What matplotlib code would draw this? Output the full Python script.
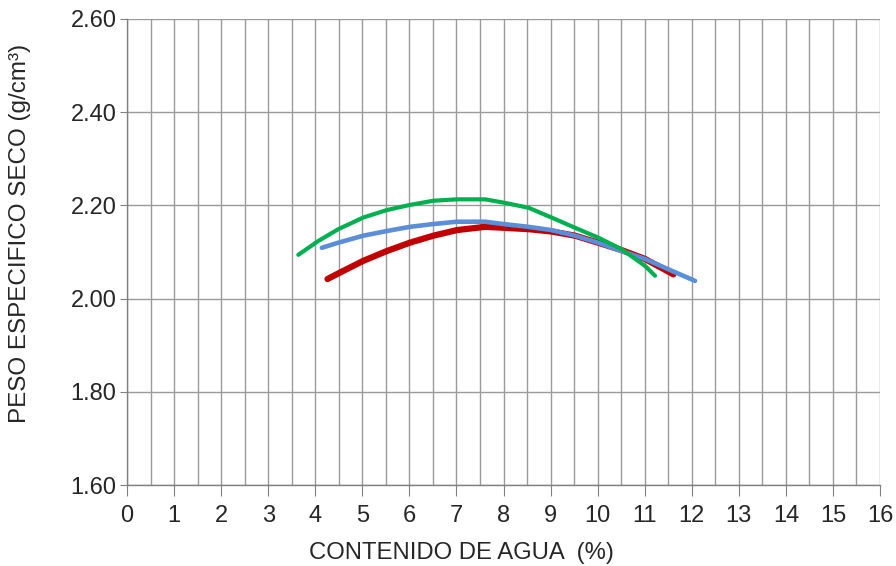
import matplotlib
matplotlib.use("Agg")
import matplotlib.pyplot as plt
from matplotlib.ticker import MultipleLocator, FormatStrFormatter

plt.rcParams['font.family'] = ['Liberation Sans', 'DejaVu Sans']

# Data
green_x = [3.64, 4.07, 4.49, 5.02, 5.52, 6.01, 6.51, 7.01, 7.61, 8.00, 8.53, 9.02, 9.52, 10.01, 10.51, 11.01, 11.22]
green_y = [2.094, 2.124, 2.149, 2.174, 2.190, 2.201, 2.210, 2.213, 2.213, 2.206, 2.195, 2.174, 2.152, 2.131, 2.106, 2.070, 2.049]

blue_x = [4.14, 4.49, 5.02, 5.52, 6.01, 6.51, 7.01, 7.61, 8.00, 8.53, 9.02, 9.52, 10.01, 10.51, 11.01, 11.50, 12.07]
blue_y = [2.109, 2.120, 2.135, 2.145, 2.154, 2.160, 2.165, 2.165, 2.160, 2.154, 2.147, 2.135, 2.120, 2.102, 2.085, 2.063, 2.038]

red_x = [4.26, 4.49, 5.02, 5.52, 6.01, 6.51, 7.01, 7.61, 8.00, 8.53, 9.02, 9.52, 10.01, 10.51, 11.01, 11.61]
red_y = [2.042, 2.054, 2.081, 2.102, 2.120, 2.135, 2.147, 2.154, 2.152, 2.149, 2.144, 2.135, 2.120, 2.104, 2.085, 2.052]

x_label = "CONTENIDO DE AGUA  (%)"
y_label = "PESO ESPECIFICO SECO (g/cm³)"

W, H = 896, 566
L, R, T, B = 127, 880, 19, 485

fig = plt.figure(figsize=(W / 100, H / 100), dpi=100)
ax = fig.add_axes([L / W, 1 - B / H, (R - L) / W, (B - T) / H])

ax.plot(red_x, red_y, color='#C00000', lw=4.5, solid_capstyle='round', solid_joinstyle='round', zorder=3)
ax.plot(blue_x, blue_y, color='#5B8ED8', lw=3.3, solid_capstyle='round', solid_joinstyle='round', zorder=4)
ax.plot(green_x, green_y, color='#00B050', lw=3.0, solid_capstyle='round', solid_joinstyle='round', zorder=5)

ax.set_xlim(0, 16)
ax.set_ylim(1.6, 2.6)
ax.xaxis.set_major_locator(MultipleLocator(1))
ax.xaxis.set_minor_locator(MultipleLocator(0.5))
ax.yaxis.set_major_locator(MultipleLocator(0.2))
ax.yaxis.set_major_formatter(FormatStrFormatter('%.2f'))

gcol = '#9A9A9A'
ax.grid(True, which='major', axis='both', color=gcol, lw=1.0)
ax.grid(True, which='minor', axis='x', color=gcol, lw=1.0)
ax.set_axisbelow(True)

for s in ['top', 'right']:
    ax.spines[s].set_visible(False)
for s in ['left', 'bottom']:
    ax.spines[s].set_color('#808080')
    ax.spines[s].set_linewidth(1.0)

fs = 17
ax.tick_params(axis='x', which='major', length=8, color='#808080', labelsize=fs, pad=6.5, labelcolor='#262626')
ax.tick_params(axis='x', which='minor', length=0)
ax.tick_params(axis='y', which='major', length=5, color='#808080', labelsize=fs, pad=2.5, labelcolor='#262626')

ax.set_xlabel(x_label, fontsize=17.2, color='#262626', va='center', ha='center')
ax.set_ylabel(y_label, fontsize=17.5, color='#262626', va='center', ha='center')
# Title positions in figure pixels converted to axes fractions
ax.xaxis.set_label_coords((461 - L) / (R - L), (B - 553) / (B - T))
ax.yaxis.set_label_coords((20 - L) / (R - L), (B - 233.5) / (B - T))

fig.savefig('out.png', dpi=100)
